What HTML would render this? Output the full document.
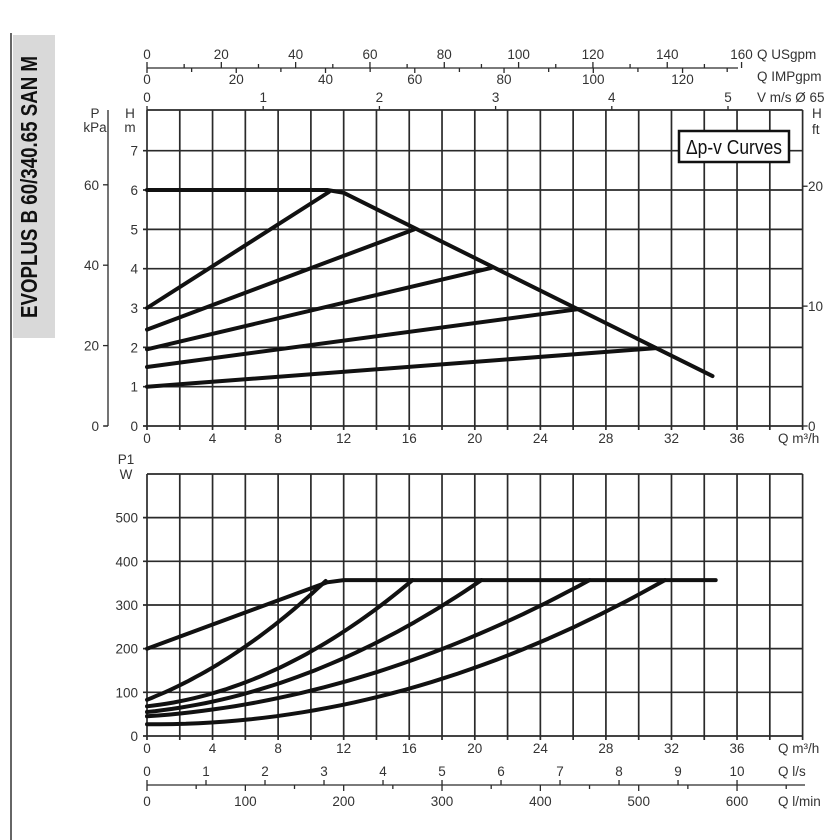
<!DOCTYPE html>
<html><head><meta charset="utf-8"><style>
html,body{margin:0;padding:0;background:#fff;width:840px;height:840px;overflow:hidden}
svg text{font-family:"Liberation Sans",sans-serif;fill:#333;font-size:13.5px}
</style></head><body>
<svg id="s" width="840" height="840" xmlns="http://www.w3.org/2000/svg">
<rect x="13" y="35" width="42" height="303" fill="#d9d9d9"/>
<line x1="11" y1="33" x2="11" y2="840" stroke="#333" stroke-width="1.5"/>
<text transform="translate(37,318) rotate(-90)" textLength="262" lengthAdjust="spacingAndGlyphs" style="font-size:23px;font-weight:bold;fill:#111">EVOPLUS B 60/340.65 SAN M</text>
<g id="g"></g>
<rect x="679" y="131" width="110" height="31" fill="#fff" stroke="#111" stroke-width="2.5"/>
<text x="734" y="154" text-anchor="middle" textLength="96" lengthAdjust="spacingAndGlyphs" style="font-size:20px;fill:#111">Δp-v Curves</text>
</svg>
<script>
var NS="http://www.w3.org/2000/svg",g=document.getElementById('g');
function el(t,a,txt){var e=document.createElementNS(NS,t);for(var k in a)e.setAttribute(k,a[k]);if(txt!=null)e.textContent=txt;g.appendChild(e);return e;}
function ln(x1,y1,x2,y2,w,c){el('line',{x1:x1,y1:y1,x2:x2,y2:y2,stroke:c||'#2a2a2a','stroke-width':w||1.3});}
function tx(x,y,s,anc,sz){var a={x:x,y:y};if(anc)a['text-anchor']=anc;if(sz)a.style='font-size:'+sz+'px';el('text',a,s);}
var X0=147,K=16.39;function X(q){return X0+q*K;}
var XR=X(40);
var H0=426,HK=39.33;function Y(h){return H0-h*HK;}
var YT=110;
for(var q=0;q<=40;q+=2)ln(X(q),YT,X(q),H0+4,1.7);
for(var h=0;h<=7;h++)ln(X0-4,Y(h),XR,Y(h),1.7);
ln(X0,YT,XR,YT,1.8);
for(var h=0;h<=7;h++)tx(138,Y(h)+5,String(h),'end');
tx(130,118,'H','middle');tx(130,132,'m','middle');
for(var q=0;q<=36;q+=4)tx(X(q),H0+17,String(q),'middle');
tx(778,443,'Q m³/h');
ln(108,110,108,426,1.3);ln(104,426,108,426,1.3);
for(var p=0;p<=60;p+=20){var y=426-p*4.02;ln(103,y,108,y,1.3);tx(99,y+5,String(p),'end');}
tx(95,118,'P','middle');tx(95,132,'kPa','middle');
for(var f=0;f<=20;f+=10){var y=H0-f*0.3048*HK;ln(XR,y,XR+5,y,1.3);tx(808,y+5,String(f));}
tx(812,118,'H');tx(812,134,'ft');
for(var v=0;v<=5;v++){var x=X0+v*116.2;ln(x,YT-4,x,YT,1.3);tx(x,102,String(v),'middle');}
tx(757,102,'V m/s Ø 65');
ln(X0,68,738,68,1.3);
for(var u=0;u<=160;u+=10){var x=X0+u*3.716;ln(x,u%20?64:62,x,68,1.3);if(u%20==0)tx(x,59,String(u),'middle');}
tx(757,59,'Q USgpm');
for(var m=0;m<=130;m+=10){var x=X0+m*4.463;ln(x,68,x,m%20?72:73,1.3);if(m%20==0)tx(x,84,String(m),'middle');}
tx(757,81,'Q IMPgpm');
function poly(pts,w){el('polyline',{points:pts.map(function(p){return p[0].toFixed(1)+','+p[1].toFixed(1)}).join(' '),fill:'none',stroke:'#111','stroke-width':w||4,'stroke-linejoin':'round','stroke-linecap':'round'});}
function T(q,h){return [X(q),Y(h)];}
poly([T(0,6),T(11,6),T(12,5.93),T(34.5,1.27)]);
poly([T(0,3),T(11.1,5.95)]);
poly([T(0,2.45),T(16.3,5.0)]);
poly([T(0,1.95),T(21,4.02)]);
poly([T(0,1.5),T(26.3,2.97)]);
poly([T(0,1.0),T(31.05,1.98)]);
var P0=736,PK=0.4367;function YP(p){return P0-p*PK;}
var BT=474;
for(var q=0;q<=40;q+=2)ln(X(q),BT,X(q),P0+4,1.7);
for(var p=0;p<=500;p+=100)ln(X0-4,YP(p),XR,YP(p),1.7);
ln(X0,BT,XR,BT,1.8);
for(var p=0;p<=500;p+=100)tx(138,YP(p)+5,String(p),'end');
tx(126,464,'P1','middle');tx(126,479,'W','middle');
for(var q=0;q<=36;q+=4)tx(X(q),P0+17,String(q),'middle');
tx(778,753,'Q m³/h');
ln(X0,785,805,785,1.3);
for(var s=0;s<=10;s++){var x=X(s*3.6);ln(x,780,x,785,1.3);tx(x,776,String(s),'middle');}
tx(778,776,'Q l/s');
for(var m=0;m<=650;m+=50){var x=X(m*0.06);ln(x,785,x,m%100?789:791,1.3);if(m%100==0)tx(x,806,String(m),'middle');}
tx(778,806,'Q l/min');
function B(q,p){return [X(q),YP(p)];}
function quad(p0,p1,p2){
 var x0=p0[0],x1=p1[0],x2=p2[0],y0=p0[1],y1=p1[1],y2=p2[1];
 var pts=[];for(var i=0;i<=40;i++){var q=x0+(x2-x0)*i/40;
  var v=y0*(q-x1)*(q-x2)/((x0-x1)*(x0-x2))+y1*(q-x0)*(q-x2)/((x1-x0)*(x1-x2))+y2*(q-x0)*(q-x1)/((x2-x0)*(x2-x1));
  pts.push(B(q,v));}
 return pts;}
poly([B(0,200),B(11,352),B(12,357),B(34.7,357)]);
poly(quad([0,83],[6,205],[10.9,355]));
poly(quad([0,68],[12.4,249],[16.2,357]));
poly(quad([0,55],[12.4,185],[20.4,357]));
poly(quad([0,45],[12.4,128],[27,357]));
poly(quad([0,27],[12.4,75],[31.6,357]));
</script>
</body></html>
